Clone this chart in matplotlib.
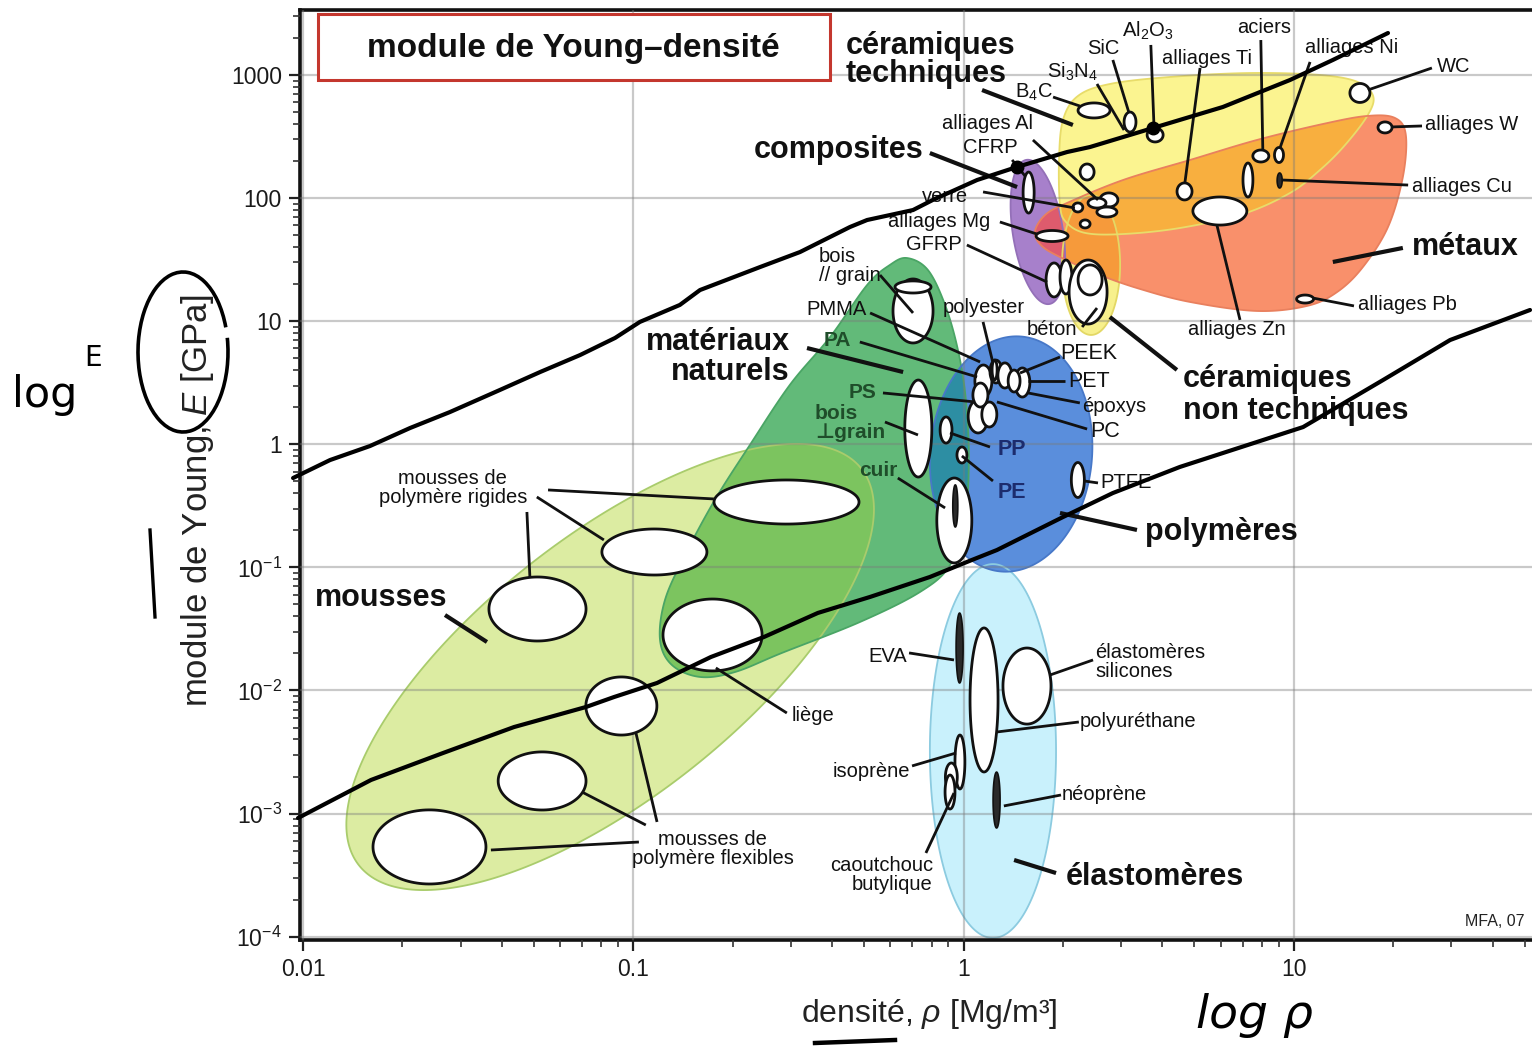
import numpy as np
import matplotlib
matplotlib.use("Agg")
import matplotlib.pyplot as plt
from matplotlib.patches import Polygon, Rectangle, Arc
from matplotlib.lines import Line2D
from matplotlib.ticker import FixedLocator, FixedFormatter, LogLocator, NullFormatter

plt.rcParams["font.family"] = ["Liberation Sans", "DejaVu Sans"]
plt.rcParams["mathtext.fontset"] = "custom"
plt.rcParams["mathtext.rm"] = "Liberation Sans"
plt.rcParams["mathtext.it"] = "Liberation Sans:italic"
plt.rcParams["mathtext.bf"] = "Liberation Sans:bold"

# ------------------------------------------------------------------ axes data
x_ticks = [0.01, 0.1, 1, 10]
x_tick_labels = ["0.01", "0.1", "1", "10"]
y_ticks = [1e-4, 1e-3, 1e-2, 1e-1, 1, 10, 100, 1000]
y_tick_labels = [r"$10^{-4}$", r"$10^{-3}$", r"$10^{-2}$", r"$10^{-1}$", "1", "10", "100", "1000"]
log_rho_range = (-2.009, 1.721)   # decades of density (Mg/m3)
log_E_range = (-4.027, 3.528)     # decades of Young's modulus (GPa)

# ------------------------------------------------------------------ family envelopes
# elliptical envelopes: centre (log10 rho, log10 E), semi-axes in density decades, tilt in degrees
ell_names = ["mousses", "polymères", "élastomères", "composites", "céramiques non techniques"]
ell_log_rho = [-1.070, 0.144, 0.089, 0.225, 0.386]
ell_log_E = [-1.809, -0.079, -2.492, 1.725, 1.457]
ell_a = [0.969, 0.357, 0.566, 0.221, 0.212]
ell_b = [0.394, 0.245, 0.191, 0.076, 0.088]
ell_tilt = [38.3, 85.0, 90.0, 99.0, 90.0]

# free-form envelopes (outline points, decades)
naturels_log_rho = [-0.171, -0.108, -0.056, -0.017, 0.007, 0.016, 0.004, -0.041, -0.132, -0.314,
                    -0.550, -0.692, -0.798, -0.883, -0.919, -0.904, -0.843, -0.753, -0.647,
                    -0.526, -0.404, -0.292, -0.223]
naturels_log_E = [1.513, 1.416, 1.132, 0.766, 0.360, -0.128, -0.615, -0.981, -1.200, -1.444,
                  -1.695, -1.850, -1.890, -1.793, -1.590, -1.265, -0.899, -0.452, -0.006,
                  0.482, 0.872, 1.294, 1.457]
metaux_log_rho = [0.216, 0.247, 0.313, 0.483, 0.686, 0.888, 1.088, 1.221, 1.306, 1.339, 1.330,
                  1.285, 1.209, 1.131, 1.040, 0.888, 0.686, 0.534, 0.413, 0.298, 0.237]
metaux_log_E = [1.725, 1.863, 1.960, 2.147, 2.310, 2.472, 2.602, 2.667, 2.651, 2.513, 2.171,
                1.765, 1.440, 1.237, 1.124, 1.083, 1.156, 1.262, 1.375, 1.513, 1.611]
ceram_log_rho = [0.292, 0.289, 0.301, 0.346, 0.443, 0.625, 0.867, 1.079, 1.194, 1.240, 1.224,
                 1.155, 1.079, 0.988, 0.846, 0.655, 0.483, 0.368, 0.310]
ceram_log_E = [1.944, 2.310, 2.634, 2.829, 2.927, 2.984, 3.016, 3.000, 2.943, 2.829, 2.675,
               2.431, 2.228, 2.041, 1.871, 1.757, 1.708, 1.717, 1.806]

fill_colors = {
    "mousses": "#dceca2", "matériaux naturels": "#62ba79", "élastomères": "#c9f1fc",
    "polymères": "#5a8edc", "composites": "#a780cb", "céramiques non techniques": "#f7f08c",
    "céramiques techniques": "#fbf490", "métaux": "#f9906b",
}
edge_colors = {
    "mousses": "#a9cc6c", "matériaux naturels": "#4aa565", "élastomères": "#8ccbe0",
    "polymères": "#4778c8", "composites": "#9470b8", "céramiques non techniques": "#e3d865",
    "céramiques techniques": "#e8dc6a", "métaux": "#e9805e",
}
overlaps = [("mousses", "matériaux naturels", "#7cc45f"),
            ("matériaux naturels", "polymères", "#2d8ea3"),
            ("céramiques techniques", "métaux", "#f8af3f"),
            ("céramiques non techniques", "métaux", "#f69a3b"),
            ("composites", "métaux", "#de5b6d")]

# ------------------------------------------------------------------ material bubbles
# (log10 rho centre, log10 E centre, half-width in decades of rho, half-height in decades of E)
foam_bubbles = [(-0.536, -0.469, 0.2195, 0.179), (-0.936, -0.875, 0.159, 0.187),
                (-1.290, -1.338, 0.147, 0.260), (-0.760, -1.549, 0.150, 0.292),
                (-1.036, -2.126, 0.1075, 0.236), (-1.276, -2.735, 0.133, 0.236),
                (-1.617, -3.271, 0.171, 0.301)]
natural_bubbles = [(-0.153, 1.083, 0.0606, 0.260), (-0.153, 1.278, 0.0545, 0.049),
                   (-0.137, 0.128, 0.0409, 0.394), (-0.028, -0.619, 0.053, 0.345)]
polymer_bubbles = [(-0.053, 0.116, 0.018, 0.106), (-0.005, -0.087, 0.015, 0.065),
                   (0.346, -0.290, 0.0197, 0.142), (0.060, 0.514, 0.0257, 0.130),
                   (0.098, 0.591, 0.018, 0.093), (0.125, 0.559, 0.021, 0.102),
                   (0.178, 0.502, 0.0227, 0.118), (0.153, 0.514, 0.018, 0.089),
                   (0.044, 0.226, 0.030, 0.134), (0.078, 0.242, 0.0227, 0.1015),
                   (0.051, 0.400, 0.0227, 0.0975), (0.094, 0.604, 0.0076, 0.081)]
elastomer_bubbles = [(0.062, -2.077, 0.0424, 0.585), (0.192, -1.964, 0.0727, 0.309),
                     (-0.011, -2.581, 0.015, 0.219), (-0.037, -2.703, 0.018, 0.114),
                     (-0.041, -2.825, 0.015, 0.138)]
hard_bubbles = [(0.197, 2.045, 0.0167, 0.1665), (0.274, 1.335, 0.0242, 0.138),
                (0.310, 1.359, 0.018, 0.138), (0.346, 1.924, 0.015, 0.0366),
                (0.374, 2.212, 0.0212, 0.065), (0.368, 1.790, 0.015, 0.0325),
                (0.377, 1.237, 0.0575, 0.260), (0.383, 1.335, 0.0363, 0.122),
                (0.395, 2.712, 0.0484, 0.061), (0.504, 2.618, 0.018, 0.081),
                (0.580, 2.513, 0.0242, 0.057), (1.200, 2.854, 0.0303, 0.077),
                (0.440, 1.985, 0.0272, 0.0569), (0.404, 1.960, 0.0272, 0.0406),
                (0.434, 1.887, 0.0303, 0.0406), (0.268, 1.692, 0.0484, 0.0447),
                (1.276, 2.574, 0.0212, 0.0447), (0.900, 2.342, 0.0242, 0.0487),
                (0.955, 2.350, 0.0136, 0.061), (0.669, 2.054, 0.0227, 0.069),
                (0.861, 2.147, 0.015, 0.138), (0.776, 1.895, 0.0817, 0.114),
                (1.034, 1.180, 0.0257, 0.0325)]
# narrow filled bars: cuir core, EVA, néoprène, alliages Cu
dark_bars = [(-0.025, -0.501, 0.0076, 0.171), (-0.012, -1.655, 0.0106, 0.284),
             (0.100, -2.890, 0.0106, 0.227), (0.957, 2.143, 0.0076, 0.061)]

# ------------------------------------------------------------------ labels
family_labels = [
    ("céramiques\ntechniques", -0.356, 3.122, "left", 0.9),
    ("composites", -0.120, 2.391, "right", 1.0),
    ("métaux", 1.358, 1.603, "left", 1.0),
    ("matériaux\nnaturels", -0.526, 0.709, "right", 0.98),
    ("polymères", 0.549, -0.712, "left", 1.0),
    ("mousses", -1.964, -1.249, "left", 1.0),
    ("élastomères", 0.310, -3.515, "left", 1.0),
    ("céramiques\nnon techniques", 0.664, 0.400, "left", 1.1),
]
material_labels = [
    ("Al$_2$O$_3$", 0.558, 3.357, "small", "center"), ("SiC", 0.422, 3.219, "small", "center"),
    ("Si$_3$N$_4$", 0.328, 3.024, "small", "center"), ("B$_4$C", 0.213, 2.862, "small", "center"),
    ("alliages Ti", 0.737, 3.138, "small", "center"), ("aciers", 0.910, 3.382, "small", "center"),
    ("alliages Ni", 1.176, 3.227, "small", "center"), ("WC", 1.433, 3.065, "small", "left"),
    ("alliages W", 1.397, 2.594, "small", "left"), ("alliages Cu", 1.358, 2.098, "small", "left"),
    ("alliages Pb", 1.194, 1.132, "small", "left"), ("alliages Zn", 0.828, 0.929, "small", "center"),
    ("alliages Al", 0.210, 2.610, "small", "right"), ("CFRP", 0.165, 2.415, "small", "right"),
    ("verre", 0.013, 2.017, "small", "right"), ("alliages Mg", 0.080, 1.806, "small", "right"),
    ("GFRP", -0.005, 1.619, "small", "right"), ("bois\n// grain", -0.438, 1.448, "small", "left"),
    ("PMMA", -0.295, 1.091, "small", "right"), ("polyester", 0.062, 1.115, "small", "center"),
    ("béton", 0.268, 0.929, "small", "center"), ("PA", -0.383, 0.847, "green", "center"),
    ("PEEK", 0.292, 0.734, "poly", "left"), ("PET", 0.316, 0.514, "poly", "left"),
    ("époxys", 0.359, 0.311, "small", "left"), ("PC", 0.383, 0.100, "poly", "left"),
    ("PS", -0.305, 0.417, "green", "center"), ("bois\n⊥grain", -0.450, 0.173, "green", "left"),
    ("PP", 0.104, -0.046, "navy", "left"), ("PE", 0.104, -0.388, "navy", "left"),
    ("cuir", -0.259, -0.209, "green", "center"), ("PTFE", 0.413, -0.314, "small", "left"),
    ("mousses de\npolymère rigides", -1.546, -0.355, "small", "center"),
    ("liège", -0.520, -2.207, "small", "left"),
    ("mousses de\npolymère flexibles", -0.759, -3.288, "small", "center"),
    ("EVA", -0.229, -1.728, "small", "center"),
    ("élastomères\nsilicones", 0.398, -1.768, "small", "left"),
    ("polyuréthane", 0.352, -2.248, "small", "left"),
    ("isoprène", -0.280, -2.662, "small", "center"),
    ("néoprène", 0.298, -2.841, "small", "left"),
    ("caoutchouc\nbutylique", -0.093, -3.499, "small", "right"),
]
# leader lines (from label to bubble), decades
family_leaders = [(0.056, 2.878, 0.331, 2.594), (-0.102, 2.366, 0.162, 2.090),
                  (1.330, 1.595, 1.118, 1.481), (-0.474, 0.782, -0.183, 0.587),
                  (0.525, -0.696, 0.292, -0.558), (-1.570, -1.387, -1.443, -1.606),
                  (0.280, -3.483, 0.153, -3.377), (0.646, 0.604, 0.443, 1.034)]
material_leaders = [
    (0.567, 3.244, 0.577, 2.553), (0.452, 3.122, 0.501, 2.691), (0.404, 2.927, 0.486, 2.553),
    (0.271, 2.821, 0.352, 2.748), (0.716, 3.057, 0.670, 2.123), (0.900, 3.284, 0.906, 2.391),
    (1.049, 3.106, 0.958, 2.407), (1.418, 3.057, 1.224, 2.878), (1.388, 2.586, 1.297, 2.578),
    (1.346, 2.106, 0.964, 2.147), (1.182, 1.124, 1.058, 1.188), (0.837, 1.010, 0.767, 1.781),
    (0.210, 2.472, 0.407, 1.985), (0.147, 2.310, 0.186, 2.180), (0.059, 2.050, 0.337, 1.920),
    (0.110, 1.806, 0.222, 1.708), (0.010, 1.619, 0.253, 1.318), (-0.253, 1.375, -0.153, 1.067),
    (-0.283, 1.067, 0.050, 0.669), (0.059, 0.994, 0.089, 0.660), (0.359, 0.953, 0.404, 1.107),
    (-0.314, 0.831, 0.041, 0.547), (0.292, 0.709, 0.171, 0.579), (0.307, 0.514, 0.195, 0.514),
    (0.352, 0.336, 0.195, 0.417), (0.374, 0.124, 0.101, 0.344), (-0.244, 0.417, 0.035, 0.344),
    (-0.238, 0.181, -0.138, 0.076), (0.080, -0.022, -0.041, 0.092), (0.089, -0.298, -0.005, -0.095),
    (-0.199, -0.274, -0.056, -0.517), (0.407, -0.314, 0.365, -0.298),
    (-1.258, -0.371, -0.756, -0.444), (-1.292, -0.428, -1.089, -0.777),
    (-1.322, -0.550, -1.313, -1.078), (-0.535, -2.183, -0.750, -1.817),
    (-0.928, -3.068, -0.992, -2.345), (-0.962, -3.093, -1.155, -2.825),
    (-0.983, -3.231, -1.431, -3.296), (-0.165, -1.695, -0.029, -1.752),
    (0.392, -1.752, 0.262, -1.874), (0.349, -2.256, 0.101, -2.337),
    (-0.156, -2.613, -0.023, -2.508), (0.295, -2.849, 0.122, -2.938),
    (-0.114, -3.320, -0.029, -2.833)]

# hand-drawn guide lines over the chart (decades)
upper_guide_log_rho = [-2.030, -1.918, -1.797, -1.676, -1.555, -1.404, -1.282, -1.161, -1.055,
                       -0.980, -0.859, -0.798, -0.616, -0.495, -0.344, -0.292, -0.153, -0.093,
                       0.041, 0.162, 0.313, 0.383, 0.573, 0.785, 0.988, 1.118, 1.285]
upper_guide_log_E = [-0.274, -0.128, -0.014, 0.132, 0.262, 0.441, 0.587, 0.725, 0.864,
                     0.994, 1.132, 1.253, 1.440, 1.562, 1.765, 1.822, 1.903, 1.985,
                     2.147, 2.253, 2.374, 2.415, 2.569, 2.740, 2.959, 3.122, 3.341]
upper_guide_dots_log_rho = [0.162, 0.573]
upper_guide_dots_log_E = [2.253, 2.569]
lower_guide_log_rho = [-2.015, -1.794, -1.576, -1.361, -1.143, -1.058, -0.928, -0.765, -0.604,
                       -0.441, -0.283, -0.102, 0.025, 0.101, 0.301, 0.452, 0.655, 1.028,
                       1.270, 1.473, 1.715]
lower_guide_log_E = [-3.036, -2.727, -2.508, -2.297, -2.134, -2.053, -1.939, -1.728, -1.565,
                     -1.370, -1.240, -1.078, -0.940, -0.859, -0.591, -0.396, -0.184, 0.140,
                     0.522, 0.847, 1.091]

# ------------------------------------------------------------------ figure
fig = plt.figure(figsize=(15.32, 10.52), dpi=100)
fig.patch.set_facecolor("white")
ax = fig.add_axes([300 / 1532, 112 / 1052, 1232 / 1532, 930 / 1052])
ax.set_xscale("log")
ax.set_yscale("log")
ax.set_xlim(10 ** log_rho_range[0], 10 ** log_rho_range[1])
ax.set_ylim(10 ** log_E_range[0], 10 ** log_E_range[1])

pos = ax.get_position()
W = pos.width * fig.get_figwidth() * fig.dpi
H = pos.height * fig.get_figheight() * fig.dpi
# E-decades per density-decade of equal length on screen
k = (W / (log_rho_range[1] - log_rho_range[0])) / (H / (log_E_range[1] - log_E_range[0]))


def to_data(lr, le):
    return np.column_stack([10.0 ** np.asarray(lr), 10.0 ** np.asarray(le)])


def tilted_ellipse(lr, le, a, b, tilt, n=300):
    t = np.linspace(0, 2 * np.pi, n)
    th = np.radians(tilt)
    dx = a * np.cos(t) * np.cos(th) - b * np.sin(t) * np.sin(th)
    dy = a * np.cos(t) * np.sin(th) + b * np.sin(t) * np.cos(th)
    return to_data(lr + dx, le + dy * k)


def smooth_outline(lr, le, n=30):
    P = np.column_stack([lr, np.asarray(le) / k])
    m = len(P)
    t = np.linspace(0, 1, n, endpoint=False)[:, None]
    segs = []
    for i in range(m):
        p0, p1, p2, p3 = P[i - 1], P[i], P[(i + 1) % m], P[(i + 2) % m]
        segs.append(0.5 * (2 * p1 + (-p0 + p2) * t + (2 * p0 - 5 * p1 + 4 * p2 - p3) * t ** 2
                           + (-p0 + 3 * p1 - 3 * p2 + p3) * t ** 3))
    C = np.vstack(segs)
    return to_data(C[:, 0], C[:, 1] * k)


def bubble(lr, le, hr, he, n=120):
    t = np.linspace(0, 2 * np.pi, n)
    return to_data(lr + hr * np.cos(t), le + he * np.sin(t))


shapes = {}
for i, name in enumerate(ell_names):
    shapes[name] = tilted_ellipse(ell_log_rho[i], ell_log_E[i], ell_a[i], ell_b[i], ell_tilt[i])
shapes["matériaux naturels"] = smooth_outline(naturels_log_rho, naturels_log_E)
shapes["métaux"] = smooth_outline(metaux_log_rho, metaux_log_E)
shapes["céramiques techniques"] = smooth_outline(ceram_log_rho, ceram_log_E)

draw_order = ["mousses", "matériaux naturels", "élastomères", "polymères", "composites",
              "céramiques non techniques", "céramiques techniques", "métaux"]
for z, name in enumerate(draw_order):
    ax.add_patch(Polygon(shapes[name], closed=True, facecolor=fill_colors[name],
                         edgecolor="none", zorder=1.0 + 0.1 * z))
for a_name, b_name, col in overlaps:
    p = Polygon(shapes[b_name], closed=True, facecolor=col, edgecolor="none", zorder=2.0)
    ax.add_patch(p)
    p.set_clip_path(Polygon(shapes[a_name], closed=True, transform=ax.transData))
for name in draw_order:
    ax.add_patch(Polygon(shapes[name], closed=True, facecolor="none",
                         edgecolor=edge_colors[name], lw=1.3, zorder=2.2))

for group in (foam_bubbles, natural_bubbles, polymer_bubbles, elastomer_bubbles, hard_bubbles):
    for (lr, le, hr, he) in group:
        ax.add_patch(Polygon(bubble(lr, le, hr, he), closed=True, facecolor="white",
                             edgecolor="#111111", lw=2.0, zorder=5))
for (lr, le, hr, he) in dark_bars:
    ax.add_patch(Polygon(bubble(lr, le, hr, he), closed=True, facecolor="#2a2a2a",
                         edgecolor="#111111", lw=1.2, zorder=5.1))

for (r1, e1, r2, e2) in family_leaders:
    ax.plot([10 ** r1, 10 ** r2], [10 ** e1, 10 ** e2], color="#111111", lw=3.0,
            solid_capstyle="butt", zorder=6)
for (r1, e1, r2, e2) in material_leaders:
    ax.plot([10 ** r1, 10 ** r2], [10 ** e1, 10 ** e2], color="#111111", lw=2.0,
            solid_capstyle="butt", zorder=6)

styles = {
    "small": dict(fontsize=14.5, color="#111111"),
    "poly": dict(fontsize=15.5, color="#111111"),
    "green": dict(fontsize=15, fontweight="bold", color="#1f4d2a"),
    "navy": dict(fontsize=15.5, fontweight="bold", color="#1c2c6e"),
}
for (txt, lr, le, ha, ls) in family_labels:
    ax.text(10 ** lr, 10 ** le, txt, ha=ha, va="center", multialignment=ha,
            fontsize=22, fontweight="bold", color="#111111", linespacing=ls, zorder=8)
for (txt, lr, le, st, ha) in material_labels:
    ax.text(10 ** lr, 10 ** le, txt, ha=ha, va="center", multialignment=ha,
            linespacing=1.05, zorder=8, **styles[st])

# ------------------------------------------------------------------ axes styling
ax.xaxis.set_major_locator(FixedLocator(x_ticks))
ax.xaxis.set_major_formatter(FixedFormatter(x_tick_labels))
ax.yaxis.set_major_locator(FixedLocator(y_ticks))
ax.yaxis.set_major_formatter(FixedFormatter(y_tick_labels))
ax.xaxis.set_minor_locator(LogLocator(base=10, subs=np.arange(2, 10)))
ax.yaxis.set_minor_locator(LogLocator(base=10, subs=np.arange(2, 10), numticks=20))
ax.xaxis.set_minor_formatter(NullFormatter())
ax.yaxis.set_minor_formatter(NullFormatter())
ax.tick_params(which="major", direction="out", length=8, width=1.6, labelsize=16.5,
               pad=5, color="#222222", labelcolor="#1a1a1a")
ax.tick_params(which="minor", direction="out", length=5, width=1.2, color="#333333")
ax.set_axisbelow(False)
ax.grid(True, which="major", color="#7a7a7a", alpha=0.4, lw=1.6)
for side in ("left", "bottom", "top"):
    ax.spines[side].set_linewidth(2.6)
    ax.spines[side].set_color("#111111")
ax.spines["right"].set_visible(False)

ax.set_xlabel(r"densité, $\rho$ [Mg/m³]", fontsize=23, color="#222222")
ax.set_ylabel(r"module de Young, $E$ [GPa]", fontsize=25, color="#222222")
ax.xaxis.label.set_verticalalignment("center")
ax.yaxis.label.set_verticalalignment("center")
ax.xaxis.set_label_coords(0.5106, -0.0796)
ax.yaxis.set_label_coords(-0.0836, 0.473)

ax.add_patch(Rectangle((0.0146, 0.9247), 0.4156, 0.071, transform=ax.transAxes,
                       facecolor="white", edgecolor="#c4372e", lw=2.2, zorder=9))
ax.text(0.2216, 0.9591, "module de Young–densité", transform=ax.transAxes, ha="center",
        va="center", fontsize=24, fontweight="bold", color="#111111", zorder=9.5)
ax.text(0.9943, 0.0194, "MFA, 07", transform=ax.transAxes, ha="right", va="center",
        fontsize=11.5, color="#222222", zorder=8)

# ------------------------------------------------------------------ hand-drawn marks
ax.plot(10.0 ** np.array(upper_guide_log_rho), 10.0 ** np.array(upper_guide_log_E),
        color="black", lw=3.0, solid_capstyle="round", solid_joinstyle="round",
        clip_on=False, zorder=10)
ax.plot(10.0 ** np.array(lower_guide_log_rho), 10.0 ** np.array(lower_guide_log_E),
        color="black", lw=3.0, solid_capstyle="round", solid_joinstyle="round",
        clip_on=False, zorder=10)
ax.plot(10.0 ** np.array(upper_guide_dots_log_rho), 10.0 ** np.array(upper_guide_dots_log_E),
        "o", color="black", ms=9, zorder=10.5)

fig.text(45 / 1532, 1 - 395 / 1052, "log", fontsize=31, ha="center", va="center",
         family="DejaVu Sans", color="black")
fig.text(93 / 1532, 1 - 358 / 1052, "E", fontsize=20, ha="center", va="center",
         family="DejaVu Sans", color="black")
fig.add_artist(Arc((183 / 1532, 1 - 352 / 1052), 90 / 1532, 160 / 1052, theta1=40,
                   theta2=385, transform=fig.transFigure, lw=2.6, color="black"))
fig.add_artist(Line2D([150 / 1532, 155 / 1532], [1 - 530 / 1052, 1 - 617 / 1052],
                      transform=fig.transFigure, lw=2.4, color="black"))
fig.add_artist(Line2D([815 / 1532, 895 / 1532], [1 - 1043 / 1052, 1 - 1040 / 1052],
                      transform=fig.transFigure, lw=3.2, color="black"))
fig.text(1255 / 1532, 1 - 1015 / 1052, "log ρ", fontsize=34, ha="center", va="center",
         family="DejaVu Sans", style="italic", color="black")

fig.savefig("out.png", dpi=100)
